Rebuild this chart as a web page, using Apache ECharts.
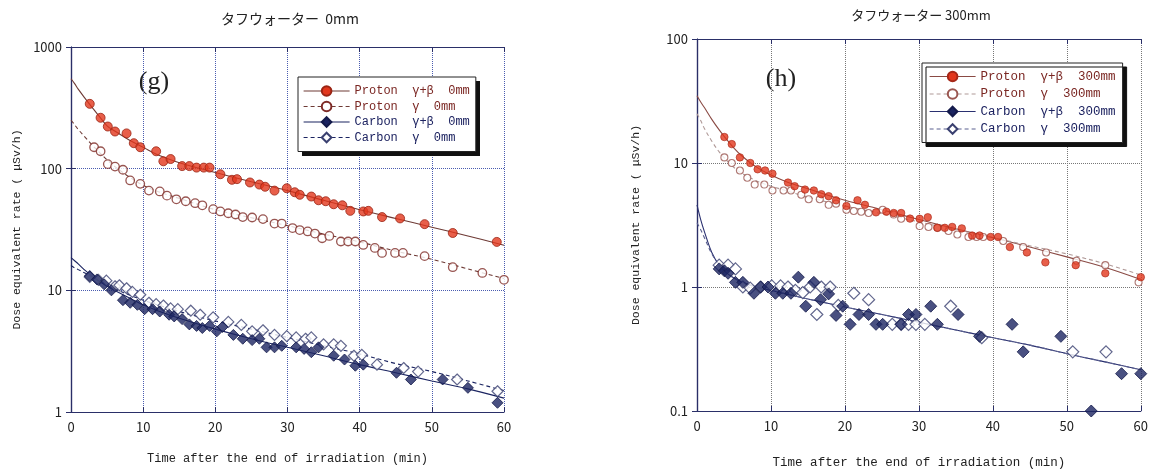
<!DOCTYPE html>
<html>
<head>
<meta charset="utf-8">
<script src="https://cdn.jsdelivr.net/npm/echarts@6/dist/echarts.min.js"></script>
<style>
  html, body { margin: 0; padding: 0; background: #fff; }
  #chart { width: 1151px; height: 474px; }
</style>
</head>
<body>
<div id="chart"></div>
<script>
// 軸の目盛り
var timeTicks = [0, 10, 20, 30, 40, 50, 60];

// フィット曲線の読み取り時刻 (min)
var fitTimes = [0, 0.5, 1, 2, 3, 4, 5, 6, 8, 10, 12, 15, 20, 25, 30, 35, 40, 45, 50, 55, 60];

/* ---- (g) タフウォーター 0mm ---- */
var gProtonGBTime = [2.6, 4.1, 5.1, 6.1, 7.7, 8.7, 9.6, 11.8, 12.8, 13.8, 15.4, 16.4, 17.4, 18.4, 19.2, 20.7, 22.3, 23.0, 24.8, 26.1, 26.9, 28.2, 29.9, 31.0, 31.7, 33.3, 34.3, 35.3, 36.4, 37.6, 38.7, 40.5, 41.2, 43.1, 45.6, 49.0, 52.9, 59.0];
var gProtonGBRate = [341, 262, 222, 202, 195, 162, 150, 139, 115, 120, 105, 105, 102, 102, 102, 90, 81, 82, 77, 74, 71, 66, 69, 64, 61, 59, 55, 54, 51, 50, 45, 44.5, 45, 40, 39, 35, 29.6, 25];
var gProtonGTime = [3.2, 4.1, 5.1, 6.1, 7.2, 8.2, 9.6, 10.8, 12.3, 13.3, 14.6, 15.9, 17.2, 18.2, 19.7, 20.7, 21.8, 22.8, 23.8, 25.1, 26.6, 28.2, 29.2, 30.7, 31.7, 32.8, 33.8, 34.8, 35.8, 37.4, 38.4, 39.4, 40.5, 42.1, 43.1, 44.9, 46.0, 49.0, 52.9, 57.0, 60.0];
var gProtonGRate = [150, 139, 109, 104, 98, 80, 75, 66, 65, 60, 56, 54, 52, 50, 46.5, 44.5, 43, 42, 40, 39.7, 38.5, 35.4, 35.4, 32.5, 31.3, 30.5, 29.3, 26.8, 28, 25.2, 25.2, 25.2, 23.6, 22.3, 20.3, 20.3, 20.3, 19.1, 15.5, 13.9, 12.2];
var gCarbonGBTime = [2.6, 3.6, 4.6, 5.6, 7.2, 8.2, 9.2, 10.2, 11.3, 12.3, 13.6, 14.3, 15.4, 16.4, 17.4, 18.2, 19.2, 20.2, 21.0, 22.5, 23.8, 25.1, 26.1, 27.1, 28.2, 29.2, 31.2, 32.3, 33.3, 34.3, 36.4, 37.9, 39.4, 40.5, 45.1, 47.1, 51.5, 55.0, 59.1];
var gCarbonGBRate = [13.1, 12.3, 11.2, 10, 8.3, 7.9, 7.6, 7.0, 7.0, 6.7, 6.3, 6.1, 5.8, 5.25, 5.1, 4.9, 5.1, 4.6, 5.0, 4.3, 4.0, 3.9, 4.0, 3.4, 3.4, 3.5, 3.4, 3.3, 3.1, 3.4, 2.9, 2.7, 2.4, 2.45, 2.1, 1.85, 1.85, 1.58, 1.19];
var gCarbonGTime = [2.6, 3.8, 4.9, 6.1, 6.7, 7.7, 8.5, 9.6, 10.8, 11.8, 12.8, 13.8, 14.8, 16.6, 17.9, 19.7, 21.8, 23.6, 25.1, 26.6, 28.2, 29.9, 31.2, 32.5, 33.3, 35.0, 36.4, 37.4, 39.2, 40.3, 42.4, 46.1, 48.1, 53.5, 59.1];
var gCarbonGRate = [12.9, 12.2, 12.0, 10.8, 11, 10.4, 9.7, 9.2, 7.9, 7.7, 7.5, 7.1, 7.0, 6.8, 6.3, 6.0, 5.5, 5.2, 4.6, 4.7, 4.3, 4.2, 4.1, 4.0, 4.1, 3.6, 3.6, 3.5, 2.9, 2.95, 2.45, 2.3, 2.15, 1.85, 1.48];
// フィット曲線
var gProtonGBFit = [548, 500, 450, 375, 315, 265, 225, 205, 173, 150, 130, 112, 93, 78, 66, 55, 46, 39, 33, 28, 23.5];
var gProtonGFit = [250, 230, 210, 180, 155, 135, 118, 105, 86, 73, 65, 57, 46, 39.5, 34, 29, 25, 21, 18, 15, 12.5];
var gCarbonGBFit = [18.6, 17.5, 16.5, 14.5, 13, 11.8, 10.8, 10, 8.7, 7.6, 6.8, 5.9, 4.8, 4.0, 3.4, 2.9, 2.45, 2.1, 1.8, 1.55, 1.3];
var gCarbonGFit = [16, 15.3, 14.8, 13.8, 12.8, 11.8, 11, 10.3, 9.2, 8.3, 7.6, 6.7, 5.6, 4.8, 4.1, 3.5, 3.0, 2.5, 2.15, 1.8, 1.5];

/* ---- (h) タフウォーター 300mm ---- */
var hProtonGBTime = [3.7, 4.7, 5.8, 7.2, 8.2, 9.2, 10.2, 12.3, 13.2, 14.6, 15.8, 16.8, 17.8, 18.8, 20.2, 21.7, 22.7, 24.2, 25.6, 26.6, 27.6, 28.8, 30.1, 31.2, 32.5, 33.5, 34.5, 35.8, 37.2, 38.2, 39.7, 40.7, 42.3, 44.6, 47.1, 51.2, 55.2, 60.0];
var hProtonGBRate = [16.2, 14.2, 11.1, 10.0, 8.9, 8.7, 8.2, 6.95, 6.5, 6.1, 6.0, 5.6, 5.4, 5.0, 4.5, 5.0, 4.6, 4.0, 4.05, 3.95, 3.95, 3.56, 3.55, 3.65, 3.0, 3.0, 3.05, 2.97, 2.6, 2.6, 2.53, 2.53, 2.1, 1.9, 1.58, 1.5, 1.29, 1.2];
var hProtonGTime = [3.7, 4.7, 5.8, 6.8, 7.8, 9.1, 10.2, 11.7, 12.7, 14.1, 15.1, 16.6, 17.8, 18.8, 20.2, 21.2, 22.2, 23.2, 25.1, 26.6, 27.6, 30.1, 31.3, 32.5, 34.0, 35.2, 36.7, 37.8, 38.7, 41.4, 44.1, 47.2, 51.3, 55.2, 59.7];
var hProtonGRate = [11.1, 10.0, 8.7, 7.6, 6.7, 6.7, 6.0, 6.0, 6.0, 5.55, 5.1, 5.1, 4.6, 4.7, 4.2, 4.1, 4.05, 3.95, 4.2, 3.84, 3.55, 3.1, 3.05, 3.0, 2.83, 2.65, 2.53, 2.53, 2.53, 2.35, 2.1, 1.9, 1.63, 1.5, 1.09];
var hCarbonGBTime = [3.0, 3.7, 4.2, 5.2, 6.2, 7.7, 8.6, 9.6, 10.6, 11.6, 12.7, 13.7, 14.7, 15.8, 16.7, 17.8, 18.8, 19.7, 20.7, 21.9, 23.2, 24.2, 25.1, 27.6, 28.6, 29.6, 31.6, 32.5, 35.3, 38.2, 42.6, 44.1, 49.2, 53.3, 57.4, 60.0];
var hCarbonGBRate = [1.4, 1.35, 1.29, 1.09, 1.09, 0.89, 1.0, 1.0, 0.89, 0.89, 0.89, 1.2, 0.7, 1.09, 0.79, 0.88, 0.59, 0.7, 0.5, 0.6, 0.6, 0.5, 0.5, 0.5, 0.6, 0.6, 0.7, 0.5, 0.6, 0.4, 0.5, 0.3, 0.4, 0.1, 0.2, 0.2];
var hCarbonGTime = [3.0, 4.2, 5.2, 6.2, 7.2, 8.6, 10.1, 11.3, 12.3, 13.3, 14.3, 15.3, 16.2, 16.8, 18.0, 19.1, 21.2, 23.2, 26.4, 27.6, 28.6, 29.6, 30.8, 34.3, 38.5, 50.8, 55.3];
var hCarbonGRate = [1.5, 1.5, 1.4, 1.0, 0.98, 1.0, 1.02, 1.02, 1.0, 0.94, 0.9, 1.0, 0.6, 1.0, 1.0, 0.71, 0.89, 0.79, 0.5, 0.5, 0.5, 0.5, 0.5, 0.7, 0.39, 0.3, 0.3];
// フィット曲線
var hProtonGBFit = [34.8, 31, 28, 22.5, 18.5, 15.5, 13.2, 11.5, 9.3, 8.0, 7.1, 6.2, 5.0, 4.2, 3.5, 2.95, 2.5, 2.1, 1.75, 1.45, 1.15];
var hProtonGFit = [25, 22, 19, 15, 12.3, 10.5, 9.2, 8.3, 7.2, 6.5, 6.0, 5.3, 4.5, 3.9, 3.35, 2.9, 2.5, 2.15, 1.85, 1.55, 1.25];
var hCarbonGBFit = [4.6, 3.5, 2.8, 1.9, 1.5, 1.3, 1.18, 1.1, 1.0, 0.94, 0.88, 0.8, 0.69, 0.6, 0.52, 0.45, 0.39, 0.34, 0.29, 0.25, 0.215];
var hCarbonGFit = [3.3, 2.9, 2.5, 1.85, 1.5, 1.3, 1.18, 1.1, 1.0, 0.94, 0.88, 0.8, 0.69, 0.6, 0.52, 0.45, 0.39, 0.34, 0.29, 0.25, 0.215];

var FONT = '"Noto Sans CJK JP", "Noto Sans", sans-serif';
var MONO = '"Liberation Mono", "DejaVu Sans Mono", monospace';

function pairs(ts, vs) {
    return ts.map(function (t, i) { return [t, vs[i]]; });
}

var chart = echarts.init(document.getElementById('chart'), null, { renderer: 'canvas' });

var grids = [
    { left: 71, top: 47, width: 433, height: 365 },
    { left: 697, top: 39, width: 445, height: 375 }
];
var axisColor = '#2a2f68';

function xAxisOf(gi, pos, gridColor) {
    return {
        type: 'value', gridIndex: gi, position: pos,
        min: 0, max: 60, interval: 10,
        name: pos === 'bottom' ? 'Time after the end of irradiation (min)' : '',
        nameLocation: 'middle', nameGap: gi === 0 ? 41 : 45,
        nameTextStyle: { fontFamily: MONO, fontSize: gi === 0 ? 12 : 12.5, color: '#222' },
        axisLine: { show: true, lineStyle: { color: axisColor, width: 1.2 } },
        axisTick: { show: true, inside: true, length: 5, lineStyle: { color: axisColor } },
        axisLabel: {
            show: pos === 'bottom', margin: 9, fontFamily: FONT, fontSize: 13, color: '#222',
            formatter: function (v) { return timeTicks.indexOf(v) >= 0 ? String(v) : ''; }
        },
        splitLine: { show: pos === 'bottom', lineStyle: { type: 'dotted', color: gridColor, width: 1 } }
    };
}
function yAxisOf(gi, pos, min, max, gridColor) {
    return {
        type: 'log', logBase: 10, gridIndex: gi, position: pos,
        min: min, max: max,
        name: pos === 'left' ? 'Dose equivalent rate ( μSv/h)' : '',
        nameLocation: 'middle', nameRotate: 90, nameGap: gi === 0 ? 48 : 55,
        nameTextStyle: { fontFamily: MONO, fontSize: 11.5, color: '#222' },
        axisLine: { show: true, lineStyle: { color: axisColor, width: 1.2 } },
        axisTick: { show: true, inside: true, length: 5, lineStyle: { color: axisColor } },
        minorTick: { show: false },
        axisLabel: {
            show: pos === 'left', margin: 9, fontFamily: FONT, fontSize: 13, color: '#222',
            formatter: function (v) { return String(Math.round(v * 10) / 10); }
        },
        splitLine: { show: pos === 'left', lineStyle: { type: 'dotted', color: gridColor, width: 1 } }
    };
}

function fitSeries(name, gi, fit, color, dashed, symbol, size, itemStyle) {
    return {
        name: name, type: 'line', xAxisIndex: gi * 2, yAxisIndex: gi * 2,
        data: pairs(fitTimes, fit), smooth: 0.35, showSymbol: false,
        symbol: symbol, symbolSize: size, itemStyle: itemStyle,
        lineStyle: { color: color, width: 1.1, type: dashed ? [4, 3] : 'solid' },
        z: 2, silent: true
    };
}
function pointSeries(id, gi, ts, vs, symbol, size, itemStyle) {
    return {
        name: id, type: 'scatter', xAxisIndex: gi * 2, yAxisIndex: gi * 2,
        data: pairs(ts, vs), symbol: symbol, symbolSize: size,
        itemStyle: itemStyle, z: 3, clip: false
    };
}

var redFill = { color: '#e2371d', borderColor: '#9a2414', borderWidth: 1 };
var redOpen = { color: '#ffffff', borderColor: '#7e2b26', borderWidth: 1.3 };
var navyFill = { color: '#1b2461', borderColor: '#141a4a', borderWidth: 1 };
var navyOpen = { color: '#ffffff', borderColor: '#3a4070', borderWidth: 1.2 };
var redFillS = { color: '#e2371d', borderColor: '#a62818', borderWidth: 0.8 };
var redOpenS = { color: '#ffffff', borderColor: '#9a5650', borderWidth: 1.1 };

var legendText = function (name, color) { return { name: name, textStyle: { color: color } }; };
var pColor = '#7a2622', cColor = '#1c2260';

function legendOf(left, top, size, gap, pad, names) {
    return {
        left: left, top: top, orient: 'vertical', z: 10,
        padding: pad, itemGap: gap, itemWidth: 46, itemHeight: 12,
        backgroundColor: '#fff', borderColor: '#222', borderWidth: 1,
        textStyle: { fontFamily: MONO, fontSize: size, lineHeight: 12 },
        lineStyle: { width: 1.2 },
        selectedMode: false,
        data: [
            legendText(names[0], pColor),
            legendText(names[1], pColor),
            legendText(names[2], cColor),
            legendText(names[3], cColor)
        ]
    };
}

var legendH = legendOf(922, 63, 12.5, 4.5, [7, 7, 7, 7],
    ['Proton  γ+β  300mm', 'Proton  γ  300mm', 'Carbon  γ+β  300mm', 'Carbon  γ  300mm']);
legendH.shadowColor = '#111';
legendH.shadowBlur = 0;
legendH.shadowOffsetX = 4;
legendH.shadowOffsetY = 4;

var option = {
    animation: false,
    backgroundColor: '#ffffff',
    textStyle: { fontFamily: FONT },
    grid: grids,
    xAxis: [
        xAxisOf(0, 'bottom', '#4a5cb0'), xAxisOf(0, 'top', '#4a5cb0'),
        xAxisOf(1, 'bottom', '#777777'), xAxisOf(1, 'top', '#777777')
    ],
    yAxis: [
        yAxisOf(0, 'left', 1, 1000, '#4a5cb0'), yAxisOf(0, 'right', 1, 1000, '#4a5cb0'),
        yAxisOf(1, 'left', 0.1, 100, '#777777'), yAxisOf(1, 'right', 0.1, 100, '#777777')
    ],
    legend: [
        legendOf(298, 77, 12, 3.5, [8, 6, 8, 5],
            ['Proton  γ+β  0mm', 'Proton  γ  0mm', 'Carbon  γ+β  0mm', 'Carbon  γ  0mm']),
        legendH
    ],
    graphic: [
        // 凡例の影
        { type: 'rect', id: 'shadowG', z: 5, x: 302, y: 81, shape: { x: 0, y: 0, width: 178, height: 75 }, style: { fill: '#111' }, silent: true },
        { type: 'rect', id: 'shadowH', z: 5, x: 926, y: 67, shape: { x: 0, y: 0, width: 200, height: 80 }, style: { fill: '#111' }, silent: true },
        { type: 'text', id: 'titleG', x: 290, y: 19, style: { text: 'タフウォーター  0mm', font: '14px ' + FONT, fill: '#222', align: 'center', verticalAlign: 'middle' } },
        { type: 'text', id: 'titleH', x: 921, y: 15, style: { text: 'タフウォーター 300mm', font: '13px ' + FONT, fill: '#222', align: 'center', verticalAlign: 'middle' } },
        { type: 'text', id: 'tagG', x: 154, y: 82, style: { text: '(g)', font: '26px "Liberation Serif", "DejaVu Serif", serif', fill: '#222', align: 'center', verticalAlign: 'middle' } },
        { type: 'text', id: 'tagH', x: 781, y: 79, style: { text: '(h)', font: '26px "Liberation Serif", "DejaVu Serif", serif', fill: '#222', align: 'center', verticalAlign: 'middle' } }
    ],
    series: [
        // (g)
        fitSeries('Proton  γ+β  0mm', 0, gProtonGBFit, '#6e3a35', false, 'circle', 10, redFill),
        fitSeries('Proton  γ  0mm', 0, gProtonGFit, '#6e3a35', true, 'circle', 10, redOpen),
        fitSeries('Carbon  γ+β  0mm', 0, gCarbonGBFit, '#1b2461', false, 'diamond', 12, navyFill),
        fitSeries('Carbon  γ  0mm', 0, gCarbonGFit, '#1b2461', true, 'diamond', 12, navyOpen),
        pointSeries('g-pgb', 0, gProtonGBTime, gProtonGBRate, 'circle', 9, redFill),
        pointSeries('g-pg', 0, gProtonGTime, gProtonGRate, 'circle', 8.5, redOpen),
        pointSeries('g-cg', 0, gCarbonGTime, gCarbonGRate, 'diamond', 11, navyOpen),
        pointSeries('g-cgb', 0, gCarbonGBTime, gCarbonGBRate, 'diamond', 11, navyFill),
        // (h)
        fitSeries('Proton  γ+β  300mm', 1, hProtonGBFit, '#8a4a44', false, 'circle', 8, redFillS),
        fitSeries('Proton  γ  300mm', 1, hProtonGFit, '#b09a98', true, 'circle', 8, redOpenS),
        fitSeries('Carbon  γ+β  300mm', 1, hCarbonGBFit, '#2a3070', false, 'diamond', 12, navyFill),
        fitSeries('Carbon  γ  300mm', 1, hCarbonGFit, '#5a6090', true, 'diamond', 12, navyOpen),
        pointSeries('h-pg', 1, hProtonGTime, hProtonGRate, 'circle', 7, redOpenS),
        pointSeries('h-pgb', 1, hProtonGBTime, hProtonGBRate, 'circle', 7.5, redFillS),
        pointSeries('h-cg', 1, hCarbonGTime, hCarbonGRate, 'diamond', 12, navyOpen),
        pointSeries('h-cgb', 1, hCarbonGBTime, hCarbonGBRate, 'diamond', 12, navyFill)
    ]
};

chart.setOption(option);
</script>
</body>
</html>
